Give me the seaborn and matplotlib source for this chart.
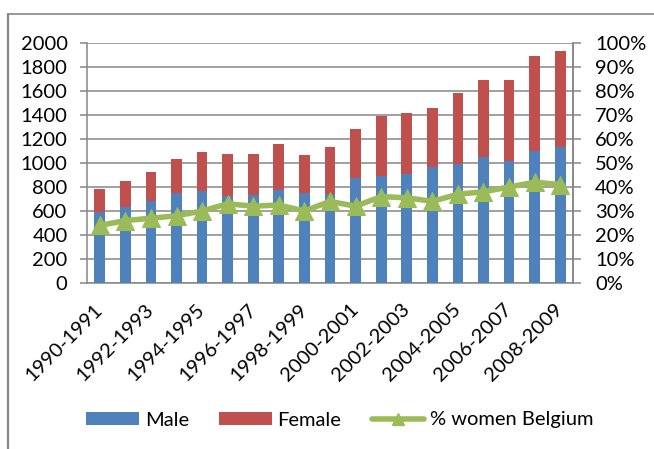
import numpy as np
import pandas as pd
import matplotlib
matplotlib.use("Agg")
import matplotlib.pyplot as plt
from matplotlib.lines import Line2D
from matplotlib.patches import Patch
import seaborn as sns

periods = ["1990-1991", "1991-1992", "1992-1993", "1993-1994", "1994-1995",
           "1995-1996", "1996-1997", "1997-1998", "1998-1999", "1999-2000",
           "2000-2001", "2001-2002", "2002-2003", "2003-2004", "2004-2005",
           "2005-2006", "2006-2007", "2007-2008", "2008-2009"]
male = [594, 631, 681, 747, 764, 728, 731, 778, 750, 742,
        872, 892, 911, 967, 994, 1047, 1017, 1097, 1136]
female = [186, 219, 247, 284, 325, 347, 344, 380, 319, 389,
          411, 502, 508, 494, 587, 645, 677, 797, 795]
pct_women = [24, 26, 27, 28, 30, 33, 32, 32.5, 30, 34,
             32, 36, 35.5, 34, 37, 38, 40, 42, 41]

sns.set_style("white")
plt.rcParams['font.family'] = ['Lato', 'DejaVu Sans']
plt.rcParams['text.color'] = 'black'
plt.rcParams['xtick.labelcolor'] = 'black'
plt.rcParams['ytick.labelcolor'] = 'black'
FS = 14.5

BLUE = "#4F81BD"
RED = "#C0504D"
GREEN = "#9BBB59"
GRID = "#868686"

df = pd.DataFrame({"period": periods, "male": male, "female": female,
                   "pct": pct_women})
df["total"] = df["male"] + df["female"]
df["idx"] = np.arange(len(df))

fig = plt.figure(figsize=(6.54, 4.49), dpi=100)
ax = fig.add_axes([87/654, 1-283/449, (573-87)/654, (283-43)/449])

sns.barplot(data=df, x="period", y="total", color=RED, width=0.42,
            saturation=1, ax=ax, edgecolor="none", zorder=2)
sns.barplot(data=df, x="period", y="male", color=BLUE, width=0.42,
            saturation=1, ax=ax, edgecolor="none", zorder=3)

ax.set_ylim(0, 2000)
ax.set_xlim(-0.5, len(df) - 0.5)
ax.set_yticks(np.arange(0, 2001, 200))
ax.set_yticklabels([str(v) for v in range(0, 2001, 200)], fontsize=FS,
                   color="black")
ax.yaxis.grid(True, color=GRID, linewidth=1.1, zorder=0)
ax.set_axisbelow(True)
ax.set_xlabel("")
ax.set_ylabel("")
ax.set_xticks(np.arange(len(df)))
ax.set_xticklabels([p if i % 2 == 0 else "" for i, p in enumerate(periods)],
                   rotation=45, ha="right", va="center",
                   rotation_mode="anchor", fontsize=FS, color="black")
ax.tick_params(axis="x", which="major", length=0, pad=17)
ax.set_xticks(np.arange(-0.5, len(df), 1), minor=True)
ax.tick_params(axis="x", which="minor", length=6, color=GRID, width=1.1,
               direction="out")
ax.tick_params(axis="y", length=5, color=GRID, width=1.1,
               direction="out", pad=9, left=True)
for s in ["left", "bottom", "right"]:
    ax.spines[s].set_color(GRID)
    ax.spines[s].set_linewidth(1.1)
ax.spines["top"].set_visible(False)

ax2 = ax.twinx()
sns.lineplot(data=df, x="idx", y="pct", color=GREEN, linewidth=4,
             marker="^", markersize=13, markeredgecolor=GREEN,
             ax=ax2, zorder=5)
ax2.set_ylim(0, 100)
ax2.set_xlim(-0.5, len(df) - 0.5)
ax2.set_yticks(np.arange(0, 101, 10))
ax2.set_yticklabels([f"{v}%" for v in range(0, 101, 10)], fontsize=FS,
                    color="black")
ax2.set_ylabel("")
ax2.set_xlabel("")
ax2.tick_params(axis="y", length=6, color=GRID, width=1.1, direction="out",
                pad=10, right=True)
for s in ["left", "bottom", "top"]:
    ax2.spines[s].set_visible(False)
ax2.spines["right"].set_color(GRID)
ax2.spines["right"].set_linewidth(1.1)
ax2.grid(False)

handles = [Patch(facecolor=BLUE, edgecolor="none"),
           Patch(facecolor=RED, edgecolor="none"),
           Line2D([0], [0], color=GREEN, linewidth=4, marker="^",
                  markersize=9)]
leg = fig.legend(handles, ["Male", "Female", "% women Belgium"],
                 loc="center", bbox_to_anchor=(340/654, 1-420/449), ncol=3,
                 frameon=False, fontsize=FS, handlelength=2.6,
                 handleheight=0.6, columnspacing=1.5, handletextpad=0.3)
for t in leg.get_texts():
    t.set_color("black")

# chart area border
fig.add_artist(Line2D([8/654, 1], [1-14/449, 1-14/449], color=GRID,
                      linewidth=1.2, transform=fig.transFigure))
fig.add_artist(Line2D([8/654, 8/654], [0, 1-14/449], color=GRID,
                      linewidth=1.6, transform=fig.transFigure))

fig.savefig("out.png", dpi=100)
